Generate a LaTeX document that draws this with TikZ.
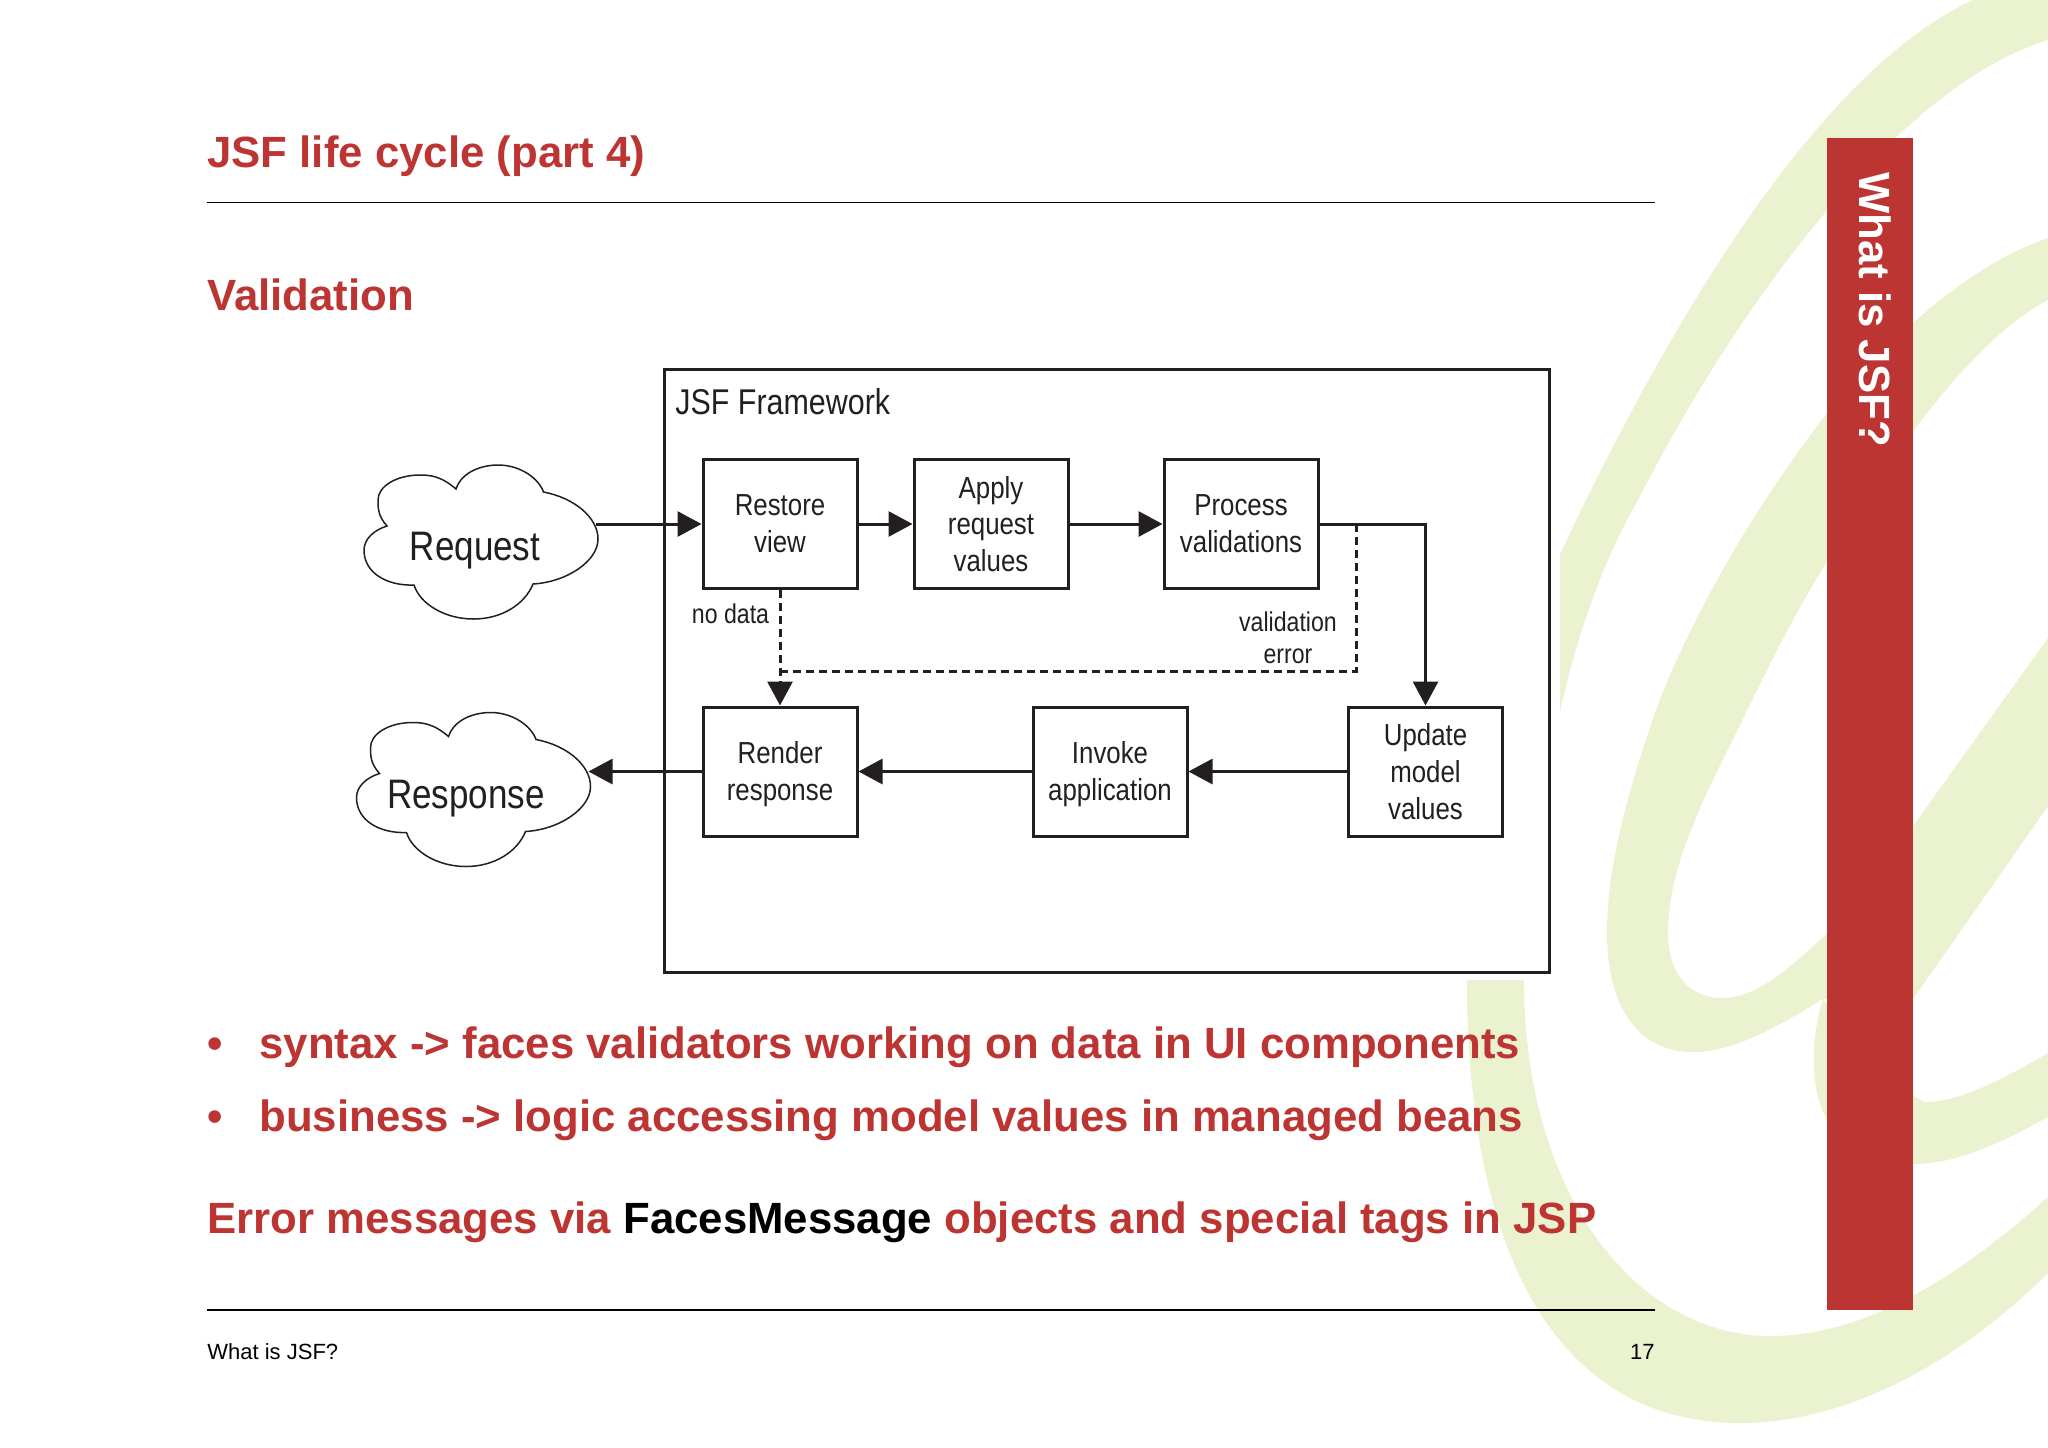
\documentclass[tikz,border=0pt]{standalone}
\usepackage{fontspec}
\setmainfont{Liberation Sans}
\newfontfamily\figfont[FakeStretch=0.85]{Liberation Sans}
\usetikzlibrary{arrows.meta}

\definecolor{jsfred}{HTML}{BC3532}
\definecolor{swooshgreen}{HTML}{EAF2CF}
\definecolor{figink}{HTML}{231F20}

\tikzset{
  swoosh/.style={fill=swooshgreen},
  slidetext/.style={anchor=base west,inner sep=0pt,text=jsfred,font=\fontsize{21.88}{26}\selectfont\bfseries},
  foottext/.style={inner sep=0pt,text=black,font=\fontsize{11}{13}\selectfont},
  rulerline/.style={draw=black,line width=0.8pt},
  stagebox/.style={draw=figink,line width=1.5pt,minimum width=77pt,minimum height=64.5pt,inner sep=0pt,align=center,text=figink,font=\figfont\fontsize{15.2}{18.4}\selectfont},
  figlabel/.style={inner sep=0pt,align=center,text=figink,font=\figfont\fontsize{13.6}{16}\selectfont},
  cloudlabel/.style={inner sep=0pt,text=figink,font=\figfont\fontsize{20.6}{24}\selectfont},
  flow/.style={draw=figink,line width=1.5pt,-{Triangle[length=12pt,width=12.5pt]}},
  dashflow/.style={draw=figink,line width=1.5pt,dash pattern=on 4pt off 2.5pt},
  cloudpic/.pic={
    \draw[figink,line width=0.75pt,fill=white]
      (-34,-51) .. controls (-28,-69) and (-7,-75) .. (8,-75)
      .. controls (31,-75) and (49,-61) .. (53.5,-48)
      .. controls (85,-42) and (108,-22) .. (108,-1)
      .. controls (108,21) and (77,42) .. (43,44)
      .. controls (35,64) and (12,79) .. (-16.5,79)
      .. controls (-45,79) and (-70,64) .. (-76,45)
      .. controls (-103,46) and (-126,33) .. (-126,10)
      .. controls (-126,-1) and (-116,-10) .. (-103,-14)
      .. controls (-112,-24) and (-112,-32) .. (-112,-40)
      .. controls (-112,-54) and (-93,-65) .. (-70,-65)
      .. controls (-60,-65) and (-49,-64) .. (-34,-51) -- cycle;
    \coordinate (-east) at (106,-16);
  }
}

\begin{document}
\begin{tikzpicture}[x=0.5pt,y=-0.5pt]
  \useasboundingbox (0,0) rectangle (2048,1447);

  % background swoosh
  \fill[swoosh] (1973,0) .. controls (1860,52) and (1720,215) .. (1560,554)
    -- (1560,712) .. controls (1580,620) and (1610,548) .. (1638,500)
    .. controls (1740,300) and (1900,85) .. (2048,40)
    -- (2048,0) -- cycle;
  \fill[swoosh] (2048,238) .. controls (1960,268) and (1880,350) .. (1827,413)
    .. controls (1760,500) and (1700,600) .. (1660,699)
    .. controls (1620,810) and (1607,880) .. (1607,932)
    .. controls (1607,1010) and (1640,1052) .. (1693,1052)
    .. controls (1735,1052) and (1780,1025) .. (1823,999)
    -- (1913,999) -- (2048,806) -- (2048,638) -- (1913,826) -- (1827,934)
    .. controls (1795,962) and (1760,998) .. (1722,998)
    .. controls (1690,998) and (1668,975) .. (1668,932)
    .. controls (1668,875) and (1695,815) .. (1730,745)
    .. controls (1760,685) and (1790,620) .. (1825,565)
    .. controls (1880,470) and (1970,340) .. (2048,300) -- cycle;
  \fill[swoosh] (1823,999) .. controls (1810,1040) and (1810,1090) .. (1827,1120)
    .. controls (1850,1150) and (1880,1164) .. (1913,1164)
    .. controls (1960,1164) and (2005,1140) .. (2048,1117)
    -- (2048,1053) .. controls (2005,1078) and (1960,1102) .. (1925,1102)
    -- (1880,1080) -- cycle;
  \fill[swoosh] (1467,980) .. controls (1467,1260) and (1560,1423) .. (1740,1423)
    .. controls (1840,1423) and (1950,1370) .. (2048,1273)
    -- (2048,1197) .. controls (1950,1285) and (1860,1336) .. (1770,1336)
    .. controls (1640,1336) and (1524,1200) .. (1524,980) -- cycle;

  % sidebar
  \fill[jsfred] (1827,137.5) rectangle (1913,1310);
  \node[inner sep=0pt,rotate=-90,text=white,font=\fontsize{21.88}{26}\selectfont\bfseries] (sidetitle) at (1875.5,309.5) {What is JSF?};

  % heading
  \node[slidetext] (title) at (207,167) {JSF life cycle (part 4)};
  \draw[rulerline] (207,202.3) -- (1655,202.3);
  \node[slidetext] (subtitle) at (207,310) {Validation};

  % framework and stages
  \draw[draw=figink,line width=1.5pt] (664,369) rectangle (1549,972);
  \node[anchor=base west,inner sep=0pt,text=figink,font=\figfont\fontsize{17.9}{20}\selectfont] (fwlabel) at (675,414) {JSF Framework};

  \node[stagebox] (restore) at (780,524) {Restore\\view};
  \node[stagebox] (apply) at (991,524) {Apply\\request\\values};
  \node[stagebox] (process) at (1241,524) {Process\\validations};
  \node[stagebox] (update) at (1425.5,771.5) {Update\\model\\values};
  \node[stagebox] (invoke) at (1110,771.5) {\rule{0pt}{14pt}Invoke\\application};
  \node[stagebox] (render) at (780,771.5) {\rule{0pt}{14pt}Render\\response};

  \pic (request) at (490,540) {cloudpic};
  \pic (response) at (482.5,787.5) {cloudpic};
  \node[cloudlabel] (reqlabel) at (475,551) {Request};
  \node[cloudlabel] (resplabel) at (466,799) {Response};

  \draw[flow] (request-east) -- (restore.west);
  \draw[flow] (restore.east) -- (apply.west);
  \draw[flow] (apply.east) -- (process.west);
  \draw[flow] (process.east) -| (update.north);
  \draw[flow] (update.west) -- (invoke.east);
  \draw[flow] (invoke.west) -- (render.east);
  \draw[flow] (render.west) -- (response-east);

  % dashed error paths
  \coordinate (errtap) at (1356,524);
  \coordinate (errjoin) at (780,671);
  \draw[dashflow] (errtap) |- (errjoin);
  \draw[dashflow,-{Triangle[length=12pt,width=12.5pt]}] (restore.south) -- (render.north);
  \node[figlabel,anchor=base] (nodata) at (730.5,623) {no data};
  \node[figlabel,anchor=center] (valerror) at (1288,638) {validation\\error};

  % bullets
  \node[slidetext] (bulleta) at (207,1058.5) {•};
  \node[slidetext] (texta) at (259,1058.5) {syntax -> faces validators working on data in UI components};
  \node[slidetext] (bulletb) at (207,1131.5) {•};
  \node[slidetext] (textb) at (259,1131.5) {business -> logic accessing model values in managed beans};
  \node[slidetext] (errline) at (207,1233.5) {Error messages via \textcolor{black}{FacesMessage} objects and special tags in JSP};

  % footer
  \draw[rulerline] (207,1310) -- (1655,1310);
  \node[foottext,anchor=base west] (footleft) at (207,1359.5) {What is JSF?};
  \node[foottext,anchor=base east] (footpage) at (1655,1359.5) {17};
\end{tikzpicture}
\end{document}
